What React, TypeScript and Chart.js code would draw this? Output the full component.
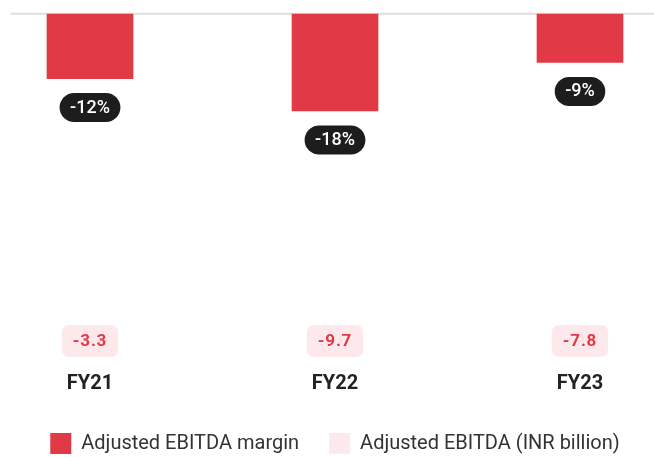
import React, { useEffect, useRef } from "react";
import { Chart, registerables } from "chart.js";

Chart.register(...registerables);

const categories = ["FY21", "FY22", "FY23"];
const marginValues = [-12, -18, -9];
const ebitdaValues = [-3.3, -9.7, -7.8];
const seriesNames = ["Adjusted EBITDA margin", "Adjusted EBITDA (INR billion)"];

const RED = "#e23947";
const PINK = "#fde9eb";
const FONT = "Roboto";

const zeroLinePlugin = {
  id: "zeroLine",
  beforeDatasetsDraw(chart: any) {
    const { ctx } = chart;
    const y0 = chart.scales.y.getPixelForValue(0);
    ctx.save();
    ctx.strokeStyle = "#dedede";
    ctx.lineWidth = 2;
    ctx.beginPath();
    ctx.moveTo(11, y0 - 0.3);
    ctx.lineTo(chart.width, y0 - 0.3);
    ctx.stroke();
    ctx.restore();
  },
};

const pillPlugin = {
  id: "pills",
  afterDatasetsDraw(chart: any) {
    const { ctx, chartArea } = chart;
    const meta = chart.getDatasetMeta(0);
    ctx.save();
    ctx.textAlign = "center";
    ctx.textBaseline = "middle";
    meta.data.forEach((bar: any, i: number) => {
      // dark pill under bar
      const t = `${marginValues[i]}%`;
      ctx.font = `500 18px ${FONT}`;
      const w = ctx.measureText(t).width + 21;
      const h = 29;
      const cy = bar.y + 29;
      ctx.fillStyle = "#1d1d1d";
      ctx.beginPath();
      ctx.roundRect(bar.x - w / 2, cy - h / 2, w, h, h / 2);
      ctx.fill();
      ctx.fillStyle = "#ffffff";
      ctx.fillText(t, bar.x, cy + 0.5);

      // pink pill near bottom
      const t2 = `${ebitdaValues[i]}`;
      ctx.font = `700 17px ${FONT}`;
      (ctx as any).letterSpacing = "0.8px";
      const w2 = ctx.measureText(t2).width + 22;
      const h2 = 32;
      const cy2 = chartArea.bottom - 23;
      ctx.fillStyle = PINK;
      ctx.beginPath();
      ctx.roundRect(bar.x - w2 / 2, cy2 - h2 / 2, w2, h2, 7);
      ctx.fill();
      ctx.fillStyle = RED;
      ctx.fillText(t2, bar.x, cy2 + 0.5);
      (ctx as any).letterSpacing = "0px";
    });
    ctx.restore();
  },
};

export default function App() {
  const ref = useRef<HTMLCanvasElement>(null);

  useEffect(() => {
    if (!ref.current) return;
    const chart = new Chart(ref.current, {
      type: "bar",
      data: {
        labels: categories,
        datasets: [
          {
            type: "bar",
            label: seriesNames[0],
            data: marginValues,
            backgroundColor: RED,
            borderWidth: 0,
            barThickness: 86,
            clip: false as any,
            yAxisID: "y",
          },
          {
            type: "line",
            label: seriesNames[1],
            data: ebitdaValues,
            backgroundColor: PINK,
            borderColor: PINK,
            borderWidth: 0,
            showLine: false,
            pointRadius: 0,
            pointHoverRadius: 0,
            yAxisID: "y2",
          } as any,
        ],
      },
      options: {
        animation: false,
        responsive: true,
        maintainAspectRatio: false,
        layout: { padding: { top: 14, left: 16, right: 0, bottom: 0 } },
        plugins: {
          tooltip: { enabled: false },
          legend: {
            position: "bottom",
            labels: {
              boxWidth: 21,
              boxHeight: 21,
              padding: 30,
              color: "#333333",
              font: { family: FONT, size: 20, weight: "400" },
            },
          },
        },
        scales: {
          x: {
            offset: false,
            grid: { display: false, drawTicks: false },
            border: { display: false },
            ticks: {
              autoSkip: false,
              maxRotation: 0,
              padding: 7.5,
              color: "#222222",
              font: { family: FONT, size: 20, weight: "700" },
            },
          },
          y: {
            position: "left",
            min: -65,
            max: 0,
            grid: { display: false, drawTicks: false },
            border: { display: false },
            ticks: { display: false },
            afterFit: (s: any) => {
              s.width = 74;
            },
          },
          y2: {
            position: "right",
            min: -65,
            max: 0,
            grid: { display: false, drawTicks: false },
            border: { display: false },
            ticks: { display: false },
            afterFit: (s: any) => {
              s.width = 74;
            },
          },
        },
      },
      plugins: [zeroLinePlugin, pillPlugin],
    });
    return () => chart.destroy();
  }, []);

  return (
    <div
      style={{
        position: "absolute",
        left: 0,
        top: 0,
        width: 654,
        height: 457,
        overflow: "hidden",
        background: "#ffffff",
      }}
    >
      <div style={{ position: "relative", width: 654, height: 464 }}>
        <canvas ref={ref} />
      </div>
    </div>
  );
}
